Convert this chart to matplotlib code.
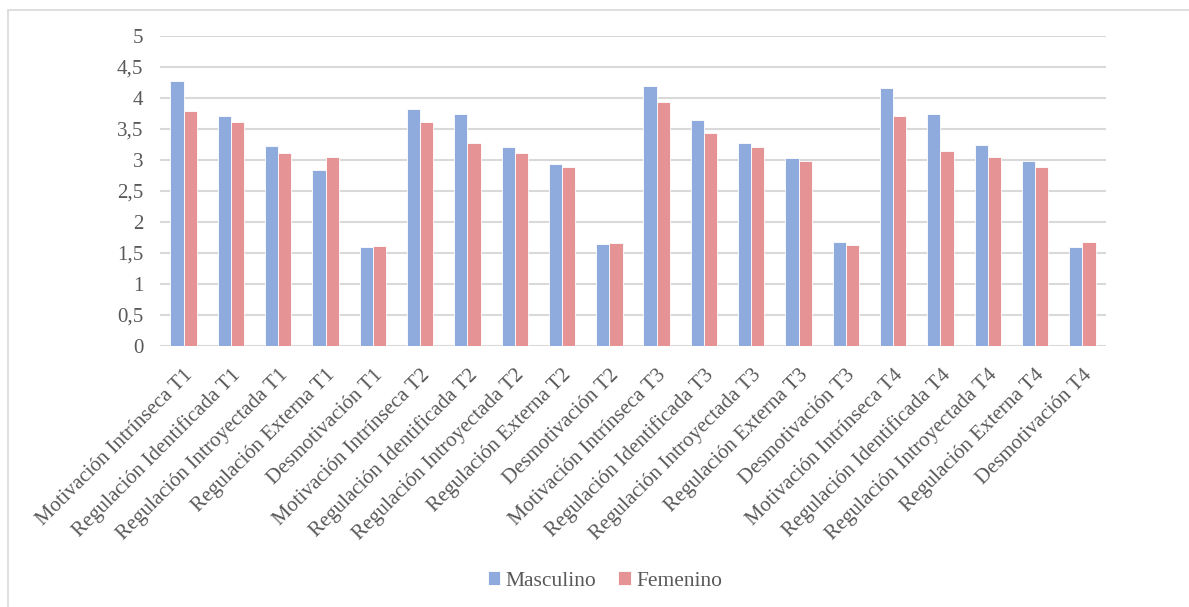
import matplotlib
matplotlib.use("Agg")
import matplotlib.pyplot as plt
import numpy as np
from matplotlib.patches import Rectangle

categories = [
    "Motivación Intrínseca T1", "Regulación Identificada T1", "Regulación Introyectada T1",
    "Regulación Externa T1", "Desmotivación T1",
    "Motivación Intrínseca T2", "Regulación Identificada T2", "Regulación Introyectada T2",
    "Regulación Externa T2", "Desmotivación T2",
    "Motivación Intrínseca T3", "Regulación Identificada T3", "Regulación Introyectada T3",
    "Regulación Externa T3", "Desmotivación T3",
    "Motivación Intrínseca T4", "Regulación Identificada T4", "Regulación Introyectada T4",
    "Regulación Externa T4", "Desmotivación T4",
]
masculino = [4.27, 3.71, 3.23, 2.84, 1.59,
             3.83, 3.75, 3.21, 2.93, 1.65,
             4.20, 3.64, 3.27, 3.03, 1.68,
             4.16, 3.75, 3.25, 2.99, 1.59]
femenino = [3.79, 3.62, 3.12, 3.05, 1.61,
            3.61, 3.28, 3.11, 2.88, 1.66,
            3.94, 3.43, 3.21, 2.99, 1.63,
            3.71, 3.15, 3.05, 2.88, 1.68]
yticks = [0, 0.5, 1, 1.5, 2, 2.5, 3, 3.5, 4, 4.5, 5]
ytick_labels = ["0", "0,5", "1", "1,5", "2", "2,5", "3", "3,5", "4", "4,5", "5"]

plt.rcParams['font.family'] = ['Liberation Serif', 'DejaVu Serif']
text_color = "#595959"
blue = "#8FAADC"
red = "#E59395"

W, H = 1189, 607
fig = plt.figure(figsize=(W / 100, H / 100), dpi=100)
ax = fig.add_axes([160 / W, (H - 346) / H, (1106 - 160) / W, (346 - 36) / H])

x = np.arange(len(categories))
bw = 0.28
ax.bar(x - bw / 2, masculino, bw, color=blue, edgecolor="white", linewidth=0.6, label="Masculino", zorder=3)
ax.bar(x + bw / 2, femenino, bw, color=red, edgecolor="white", linewidth=0.6, label="Femenino", zorder=3)

ax.set_xlim(-0.5, len(categories) - 0.5)
ax.set_ylim(0, 5)
ax.set_yticks(yticks)
ax.set_yticklabels(ytick_labels, fontsize=15, color=text_color)
ax.set_xticks(x)
ax.set_xticklabels(categories, rotation=45, ha="right", rotation_mode="anchor",
                   fontsize=15, color=text_color)
ax.tick_params(axis="both", length=0)
ax.tick_params(axis="y", pad=12)
ax.tick_params(axis="x", pad=14)
for s in ax.spines.values():
    s.set_visible(False)
ax.yaxis.grid(True, color="#D9D9D9", linewidth=1.5, zorder=0)
ax.set_axisbelow(True)

leg = fig.legend(loc="center", bbox_to_anchor=(605 / W, (H - 581) / H), ncol=2, frameon=False,
                 fontsize=15.5, handlelength=0.6, handleheight=0.6, handletextpad=0.25,
                 columnspacing=1.0, labelcolor=text_color)

fig.patches.append(Rectangle((8 / W, -0.01), 1.1, (H - 10) / H + 0.01, transform=fig.transFigure,
                             fill=False, edgecolor="#D9D9D9", linewidth=1.2))

fig.savefig("out.png", dpi=100)
